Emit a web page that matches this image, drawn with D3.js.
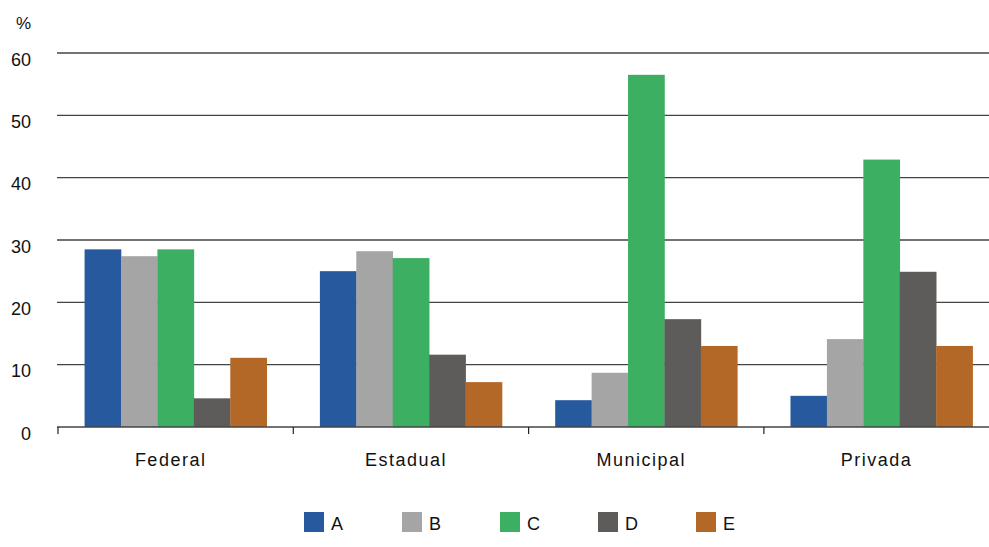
<!DOCTYPE html>
<html><head><meta charset="utf-8">
<script src="https://cdn.jsdelivr.net/npm/d3@7"></script>
<style>body{margin:0;background:#fff}svg{display:block;font-family:"Liberation Sans",Arial,sans-serif}</style>
</head><body><svg id="c" width="989" height="547"></svg>
<script>
const categories = ["Federal","Estadual","Municipal","Privada"];
const seriesNames = ["A","B","C","D","E"];
const seriesA = [28.5, 25.0, 4.3, 5.0];
const seriesB = [27.4, 28.2, 8.7, 14.1];
const seriesC = [28.5, 27.1, 56.5, 42.9];
const seriesD = [4.6, 11.6, 17.3, 24.9];
const seriesE = [11.1, 7.2, 13.0, 13.0];
const yTicks = [0,10,20,30,40,50,60];
const colors = ["#26599d","#a5a5a5","#3caf62","#5d5c5a","#b36828"];

const series = [seriesA, seriesB, seriesC, seriesD, seriesE];
const svg = d3.select("#c");
const x0 = 58, bandW = 235.3;
const x = d3.scaleBand().domain(categories).range([x0, x0 + bandW*4]).paddingInner(0).paddingOuter(0);
const xi = d3.scaleBand().domain(seriesNames).range([0, x.bandwidth()]).paddingInner(0).paddingOuter(0.73);
const y = d3.scaleLinear().domain([0,60]).range([427,53]);

// gridlines
svg.append("g").selectAll("line").data(yTicks.filter(d=>d>0)).join("line")
  .attr("x1", 57).attr("x2", 989).attr("y1", d=>y(d)).attr("y2", d=>y(d))
  .attr("stroke","#444").attr("stroke-width",1.4);

// bars
const g = svg.append("g");
categories.forEach((c,ci)=>{
  seriesNames.forEach((s,si)=>{
    const v = series[si][ci];
    g.append("rect").attr("x", x(c)+xi(s)).attr("width", xi.bandwidth()+0.3)
      .attr("y", y(v)).attr("height", y(0)-y(v)).attr("fill", colors[si]);
  });
});

// x axis
const xa = svg.append("g").attr("transform","translate(0,"+y(0)+")");
xa.append("line").attr("x1",57).attr("x2",989).attr("stroke","#444").attr("stroke-width",1.4);
xa.selectAll("line.t").data(d3.range(5)).join("line").attr("class","t")
  .attr("x1",i=>x0+i*bandW).attr("x2",i=>x0+i*bandW).attr("y1",0).attr("y2",7)
  .attr("stroke","#222").attr("stroke-width",1.2);
xa.selectAll("text").data(categories).join("text")
  .attr("x", d=>x(d)+x.bandwidth()/2-5).attr("y", 39)
  .attr("text-anchor","middle").attr("font-size",18).attr("letter-spacing","1.5px")
  .attr("fill","#111").text(d=>d);

// y labels
svg.append("g").selectAll("text").data(yTicks).join("text")
  .attr("x",31).attr("y",d=>y(d)+12.5).attr("text-anchor","end")
  .attr("font-size",18).attr("fill","#111").text(d=>d);
svg.append("text").attr("x",31).attr("y",29).attr("text-anchor","end")
  .attr("font-size",17).attr("fill","#111").text("%");

// legend
const lg = svg.append("g");
seriesNames.forEach((s,i)=>{
  const lx = 304 + i*98;
  lg.append("rect").attr("x",lx).attr("y",512).attr("width",20).attr("height",20).attr("fill",colors[i]);
  lg.append("text").attr("x",lx+27).attr("y",530).attr("font-size",18).attr("fill","#111").text(s);
});
</script></body></html>
